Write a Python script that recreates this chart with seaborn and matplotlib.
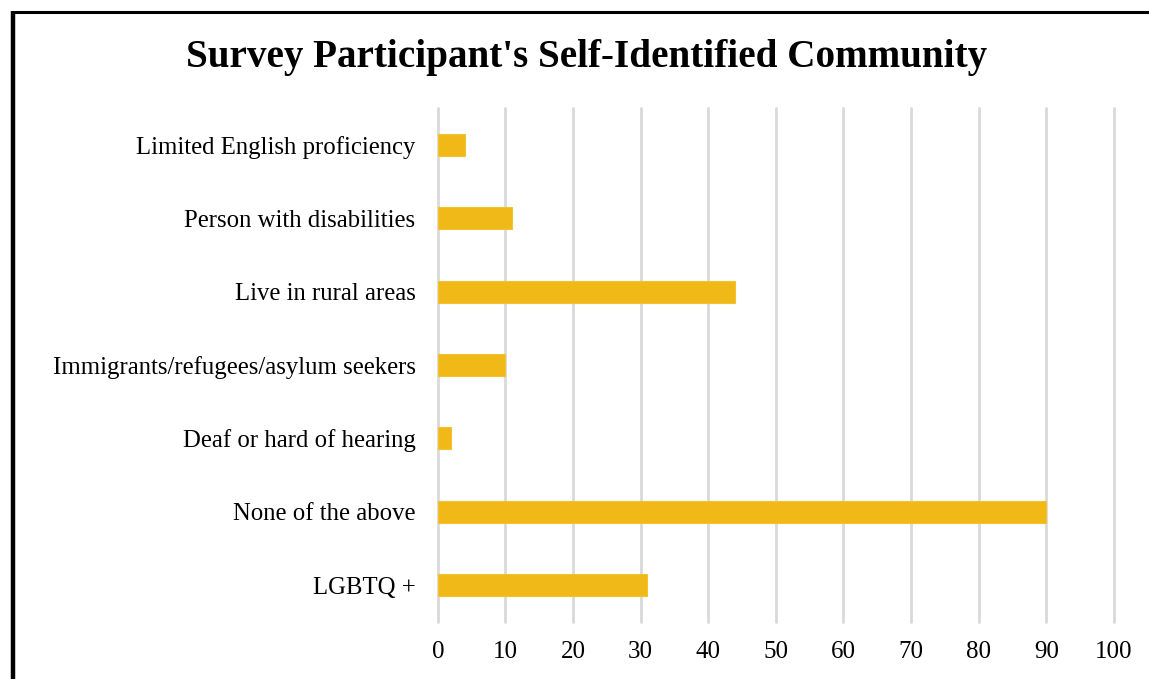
import matplotlib
matplotlib.use("Agg")
import matplotlib.pyplot as plt
import seaborn as sns
import pandas as pd
from matplotlib.lines import Line2D

categories = ["Limited English proficiency", "Person with disabilities", "Live in rural areas",
              "Immigrants/refugees/asylum seekers", "Deaf or hard of hearing",
              "None of the above", "LGBTQ +"]
values = [4, 11, 44, 10, 2, 90, 31]
x_ticks = [0, 10, 20, 30, 40, 50, 60, 70, 80, 90, 100]

df = pd.DataFrame({"category": categories, "value": values})

sns.set_theme(style="white")
plt.rcParams['font.family'] = ['Liberation Serif', 'DejaVu Serif']

fig = plt.figure(figsize=(11.49, 6.79), dpi=100)
ax = fig.add_axes([0.381, 0.084, 0.5885, 0.757])

sns.barplot(data=df, x="value", y="category", orient="h", color="#F0B918",
            saturation=1, width=0.3, ax=ax, edgecolor="#F2C232", linewidth=0.8)

ax.set_xlim(0, 100)
ax.set_ylim(6.5, -0.5)
ax.set_xticks(x_ticks)
ax.set_xticklabels([str(t) for t in x_ticks])
ax.xaxis.grid(True, color="#D9D9D9", linewidth=2)
for gl in ax.get_xgridlines():
    gl.set_clip_on(False)
ax.set_axisbelow(True)
for s in ax.spines.values():
    s.set_visible(False)
ax.set_xlabel("")
ax.set_ylabel("")
ax.tick_params(axis="x", labelsize=18, pad=14, length=0, colors="#000000")
ax.tick_params(axis="y", labelsize=17.8, pad=16, length=0, colors="#000000")

fig.text(587 / 1149, 1 - 57 / 679, "Survey Participant's Self-Identified Community",
         ha="center", va="center", fontsize=28.2, fontweight="bold", color="#000000")

fig.add_artist(Line2D([11 / 1149, 1], [1 - 12 / 679, 1 - 12 / 679], transform=fig.transFigure,
                      color="black", linewidth=2.2, solid_capstyle="butt"))
fig.add_artist(Line2D([12.5 / 1149, 12.5 / 1149], [0, 1 - 11 / 679], transform=fig.transFigure,
                      color="black", linewidth=3.2, solid_capstyle="butt"))

fig.savefig("out.png", dpi=100)
